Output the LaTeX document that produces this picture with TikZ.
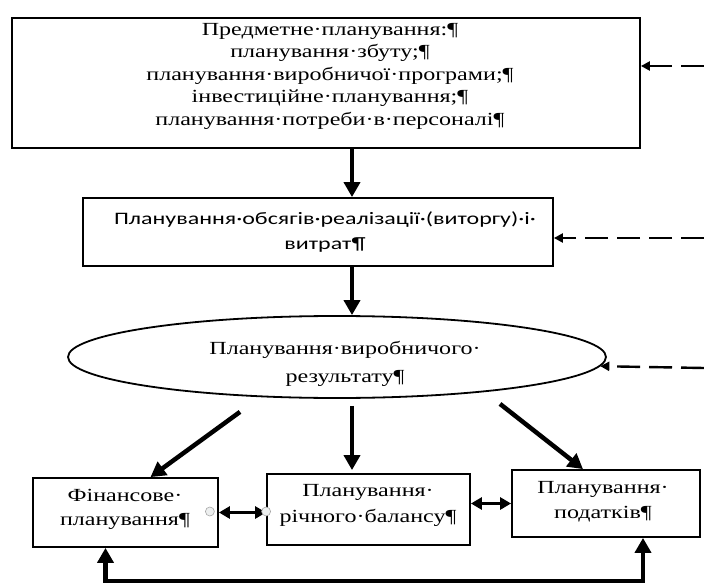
\documentclass[tikz,border=0pt]{standalone}
\usepackage{fontspec}
\setmainfont[FakeStretch=1.3]{Liberation Serif}
\newfontfamily\calib[FakeStretch=1.37]{Carlito}
\usetikzlibrary{arrows.meta,shapes.geometric,calc}
\begin{document}
\begin{tikzpicture}[x=1pt,y=-1pt,
  box/.style={draw,line width=1.8pt,inner sep=0pt},
  txt/.style={align=center,inner sep=0pt},
  arr/.style={line width=4.5pt,-{Triangle[length=15pt,width=16pt]}},
  barr/.style={line width=3.8pt,{Triangle[length=11pt,width=12pt]}-{Triangle[length=11pt,width=12pt]}},
  darr/.style={line width=2.4pt,dash pattern=on 23pt off 9pt,-{Triangle[length=9pt,width=9pt]}},
  handle/.style={circle,draw=gray!70,fill=cyan!8!gray!15,line width=0.6pt,inner sep=0pt,minimum size=9pt}]
\useasboundingbox (0,0) rectangle (704,588);
% frames
\node[box,minimum width=628pt,minimum height=130pt] (top) at (326,83) {};
\node[box,minimum width=470pt,minimum height=68pt] (b2) at (318,232) {};
\node[ellipse,draw,line width=1.8pt,minimum width=538pt,minimum height=82pt,inner sep=0pt] (ell) at (337,357) {};
\node[box,minimum width=185pt,minimum height=69pt] (fin) at (125.5,512.5) {};
\node[box,minimum width=203pt,minimum height=71pt] (ric) at (368.5,509.5) {};
\node[box,minimum width=188pt,minimum height=67pt] (pod) at (606,503.5) {};
% texts
\node[txt,font=\fontsize{18.5}{22.5}\selectfont] (topt) at (330,76)
  {Предметне·планування:¶\\планування·збуту;¶\\планування·виробничої·програми;¶\\інвестиційне·планування;¶\\планування·потреби·в·персоналі¶};
\node[txt,font=\calib\fontsize{17.5}{25}\selectfont] (b2t) at (325,232)
  {Планування·обсягів·реалізації·(виторгу)·і·\\витрат¶};
\node[txt,font=\fontsize{18.5}{28}\selectfont] (ellt) at (345,364) {Планування·виробничого·\\результату¶};
\node[txt,font=\fontsize{18.5}{24}\selectfont] (fint) at (125,509) {Фінансове·\\планування¶};
\node[txt,font=\fontsize{18.5}{26}\selectfont] (rict) at (368,505) {Планування·\\річного·балансу¶};
\node[txt,font=\fontsize{18.5}{25}\selectfont] (podt) at (603,502) {Планування·\\податків¶};
% connectors
\coordinate (cx) at (352,0);
\coordinate (d1) at (704,66);
\coordinate (d2) at (704,238);
\coordinate (d3) at (704,368);
\draw[arr] (top.south -| cx) -- (b2.north -| cx);
\draw[arr] (b2.south -| cx) -- (ell.north -| cx);
\draw[darr] (d1) -- (top.east |- d1);
\draw[darr] (d2) -- (b2.east |- d2);
\draw[darr] (d3) -- (ell.-2.4);
\draw[arr] ($(ell.south)+(-97,13)$) -- ($(fin.north)+(25,0)$);
\draw[arr] ($(ell.south)+(15,7)$) -- ($(ric.north)+(-16.5,-3)$);
\draw[arr] ($(ell.south)+(163,5)$) -- ($(pod.north)+(-23,0)$);
\draw[barr] (fin.east) -- (fin.east -| ric.west);
\draw[barr] (pod.west -| ric.east) -- (pod.west);
\draw[line width=4.5pt,{Triangle[length=15pt,width=16pt]}-{Triangle[length=15pt,width=16pt]}]
  ($(fin.south)+(-20,0)$) -- ++(0,33) -| ($(pod.south)+(37,0)$);
\node[handle] (h1) at ($(fin.east)+(-9,-1)$) {};
\node[handle] (h2) at ($(ric.west)+(0,2)$) {};
\end{tikzpicture}
\end{document}
